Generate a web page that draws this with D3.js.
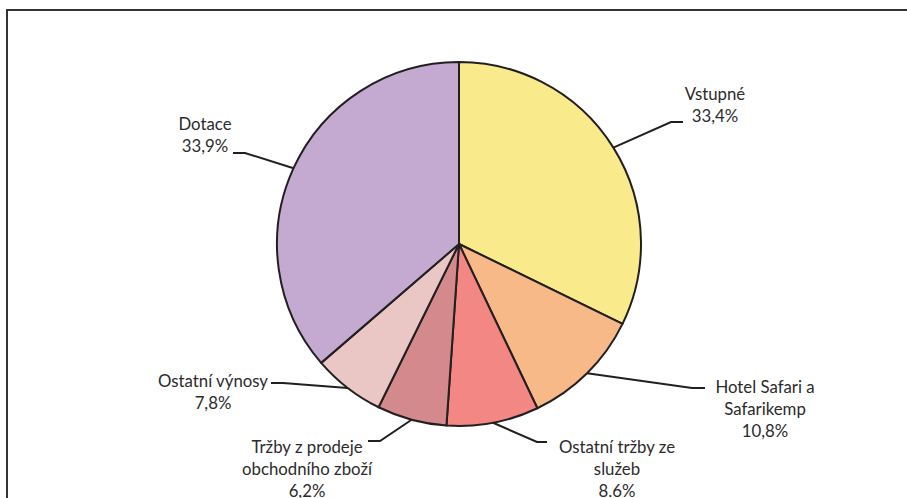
<!DOCTYPE html>
<html><head><meta charset="utf-8">
<script src="https://cdn.jsdelivr.net/npm/d3@7"></script>
<style>body{margin:0;background:#fff}svg{display:block}</style>
</head><body>
<svg id="c" width="907" height="498"></svg>
<script>
// Data
const categories = ["Vstupné", "Hotel Safari a Safarikemp", "Ostatní tržby ze služeb", "Tržby z prodeje obchodního zboží", "Ostatní výnosy", "Dotace"];
const values = [32.3, 10.7, 8.2, 6.2, 6.4, 36.4];
const pctLabels = ["33,4%", "10,8%", "8.6%", "6,2%", "7,8%", "33,9%"];
const labelLines = [["Vstupné"], ["Hotel Safari a", "Safarikemp"], ["Ostatní tržby ze", "služeb"], ["Tržby z prodeje", "obchodního zboží"], ["Ostatní výnosy"], ["Dotace"]];
const colors = ["#F9EA8C", "#F7B987", "#F28783", "#D48A8C", "#EAC7C4", "#C4AAD0"];

// Layout (label anchor and leader elbow/end positions)
const layout = [
  {tx: 715, ty: 100, elbow: [671, 122], end: [683, 122]},
  {tx: 765, ty: 393, elbow: [692, 388], end: [705, 388]},
  {tx: 617, ty: 453, elbow: [537, 442], end: [547, 442]},
  {tx: 307, ty: 453, elbow: [380, 441], end: [368, 441]},
  {tx: 213, ty: 387, elbow: [283, 383], end: [271, 383]},
  {tx: 205, ty: 130, elbow: [245, 153], end: [233, 153]}
];

const svg = d3.select("#c");
svg.append("rect").attr("x", 7).attr("y", 10).attr("width", 1000).attr("height", 1000)
  .attr("fill", "none").attr("stroke", "#333").attr("stroke-width", 2);

const cx = 459, cy = 244, R = 182;
const g = svg.append("g").attr("transform", `translate(${cx},${cy})`);
const pie = d3.pie().sort(null).value(d => d)(values);
const arc = d3.arc().innerRadius(0).outerRadius(R);

g.selectAll("path.slice").data(pie).join("path")
  .attr("class", "slice")
  .attr("d", arc)
  .attr("fill", (d, i) => colors[i])
  .attr("stroke", "#231f20").attr("stroke-width", 2).attr("stroke-linejoin", "round");

// leaders
pie.forEach((d, i) => {
  const a = (d.startAngle + d.endAngle) / 2;
  const p = [cx + R * Math.sin(a), cy - R * Math.cos(a)];
  const L = layout[i];
  svg.append("path")
    .attr("d", d3.line()([p, L.elbow, L.end]))
    .attr("fill", "none").attr("stroke", "#231f20").attr("stroke-width", 2);
  const lines = labelLines[i].concat([pctLabels[i]]);
  const t = svg.append("text").attr("text-anchor", "middle")
    .attr("font-family", "Lato, 'Open Sans', sans-serif").attr("font-size", 16.8)
    .attr("fill", "#2b2b2b");
  lines.forEach((s, k) => {
    t.append("tspan").attr("x", L.tx).attr("y", L.ty + k * 22).text(s);
  });
});
</script>
</body></html>
